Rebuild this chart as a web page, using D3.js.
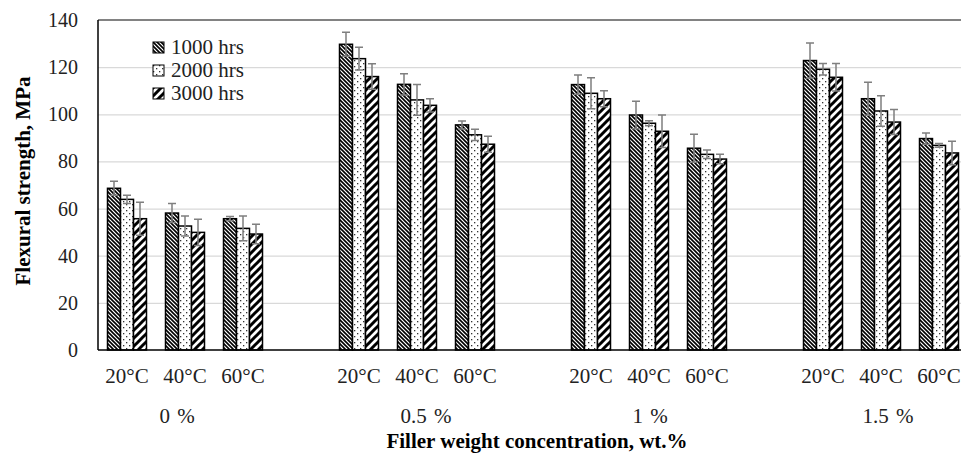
<!DOCTYPE html>
<html>
<head>
<meta charset="utf-8">
<script src="https://cdn.jsdelivr.net/npm/d3@7"></script>
<style>
  body { margin: 0; background: #fff; }
  svg { display: block; font-family: "Liberation Serif", "Times New Roman", serif; }
</style>
</head>
<body>
<div id="chart"></div>
<script>
// chart data
const fillers = ["0 %", "0.5 %", "1 %", "1.5 %"];
const temps = ["20°C", "40°C", "60°C"];
const hours = ["1000 hrs", "2000 hrs", "3000 hrs"];
const yTicks = [0, 20, 40, 60, 80, 100, 120, 140];

// one value per filler x temperature (filler-major order)
const strength1000 = [68.6, 58.1, 55.7, 129.7, 112.7, 95.5, 112.6, 99.7, 85.6, 122.8, 106.6, 89.7];
const strength2000 = [63.9, 52.6, 51.6, 123.6, 106.1, 91.3, 108.9, 96.2, 83.0, 119.1, 101.4, 86.8];
const strength3000 = [55.7, 49.9, 49.2, 116.0, 103.8, 87.3, 106.6, 92.8, 81.0, 115.7, 96.7, 83.6];
const err1000 = [3.0, 4.0, 0.9, 5.1, 4.5, 1.7, 4.1, 5.8, 5.9, 7.4, 7.0, 2.4];
const err2000 = [1.7, 4.2, 5.3, 4.8, 6.5, 2.4, 6.6, 1.1, 1.8, 2.4, 6.5, 0.8];
const err3000 = [7.0, 5.6, 4.1, 5.4, 2.8, 3.4, 3.4, 6.9, 2.0, 5.8, 5.3, 5.0];

const width = 961, height = 453;
const plot = {left: 98, right: 968, top: 20, bottom: 350};

const svg = d3.select("#chart").append("svg")
    .attr("width", width)
    .attr("height", height);

// hatch patterns like the excel fills
const defs = svg.append("defs");
let p1 = defs.append("pattern").attr("id", "pat1000")
    .attr("patternUnits", "userSpaceOnUse").attr("width", 4).attr("height", 4);
p1.append("rect").attr("width", 4).attr("height", 4).attr("fill", "#fff");
p1.append("path").attr("d", "M-1,3 l2,2 M0,0 l4,4 M3,-1 l2,2")
    .attr("stroke", "#000").attr("stroke-width", 1.6);

let p2 = defs.append("pattern").attr("id", "pat2000")
    .attr("patternUnits", "userSpaceOnUse").attr("width", 6).attr("height", 6);
p2.append("rect").attr("width", 6).attr("height", 6).attr("fill", "#fff");
p2.append("rect").attr("x", 0).attr("y", 0).attr("width", 1.3).attr("height", 1.3).attr("fill", "#333");
p2.append("rect").attr("x", 3).attr("y", 3).attr("width", 1.3).attr("height", 1.3).attr("fill", "#333");

let p3 = defs.append("pattern").attr("id", "pat3000")
    .attr("patternUnits", "userSpaceOnUse").attr("width", 8).attr("height", 8);
p3.append("rect").attr("width", 8).attr("height", 8).attr("fill", "#fff");
p3.append("path").attr("d", "M-2,2 l4,-4 M0,8 l8,-8 M6,10 l4,-4")
    .attr("stroke", "#000").attr("stroke-width", 3);

const fills = ["url(#pat1000)", "url(#pat2000)", "url(#pat3000)"];

// scales
const x0 = d3.scaleBand().domain(fillers)
    .range([plot.left, plot.right]).paddingInner(0.25).paddingOuter(0);
const x1 = d3.scaleBand().domain(temps).range([0, x0.bandwidth()]);
const x2 = d3.scaleBand().domain(hours)
    .range([x1.bandwidth() / 2 - 19.5, x1.bandwidth() / 2 + 19.5]);
const y = d3.scaleLinear().domain([0, 140]).range([plot.bottom, plot.top]);

// gridlines
svg.append("g")
    .attr("transform", `translate(${plot.left},0)`)
    .call(d3.axisLeft(y).tickValues(yTicks.slice(1, -1)).tickSize(-(plot.right - plot.left)).tickFormat(""))
    .call(g => g.select(".domain").remove())
    .selectAll("line").attr("stroke", "#d9d9d9").attr("stroke-width", 1.3);

// top border of plot area
svg.append("line")
    .attr("x1", plot.left).attr("x2", plot.right)
    .attr("y1", y(140)).attr("y2", y(140))
    .attr("stroke", "#595959").attr("stroke-width", 1.3);

// y tick labels
svg.append("g")
    .selectAll("text")
    .data(yTicks)
    .enter().append("text")
    .attr("x", plot.left - 20)
    .attr("y", d => y(d))
    .attr("dy", "0.35em")
    .attr("text-anchor", "end")
    .attr("font-size", 20)
    .attr("fill", "#222")
    .text(d => d);

// flatten the series into rows
let rows = [];
fillers.forEach((f, i) => {
    temps.forEach((t, j) => {
        let k = i * temps.length + j;
        rows.push({f: f, t: t, h: hours[0], v: strength1000[k], e: err1000[k], s: 0});
        rows.push({f: f, t: t, h: hours[1], v: strength2000[k], e: err2000[k], s: 1});
        rows.push({f: f, t: t, h: hours[2], v: strength3000[k], e: err3000[k], s: 2});
    });
});
const bx = d => x0(d.f) + x1(d.t) + x2(d.h);

// bars
svg.append("g")
    .selectAll("rect")
    .data(rows)
    .enter().append("rect")
    .attr("x", bx)
    .attr("y", d => y(d.v))
    .attr("width", x2.bandwidth())
    .attr("height", d => y(0) - y(d.v))
    .attr("fill", d => fills[d.s])
    .attr("stroke", "#000")
    .attr("stroke-width", 1.5);

// error bars
const eb = svg.append("g").attr("stroke", "#7f7f7f").attr("stroke-width", 1.5).attr("fill", "none");
eb.selectAll("path")
    .data(rows)
    .enter().append("path")
    .attr("d", d => {
        let cx = bx(d) + x2.bandwidth() / 2;
        let t = y(d.v + d.e), b = y(d.v - d.e);
        return `M${cx - 4},${t}H${cx + 4}M${cx},${t}V${b}M${cx - 4},${b}H${cx + 4}`;
    });

// axis lines
svg.append("line")
    .attr("x1", plot.left).attr("x2", plot.right)
    .attr("y1", y(0)).attr("y2", y(0))
    .attr("stroke", "#000").attr("stroke-width", 1.5);
svg.append("line")
    .attr("x1", plot.left).attr("x2", plot.left)
    .attr("y1", y(140)).attr("y2", y(0))
    .attr("stroke", "#000").attr("stroke-width", 1.5);

// category labels (group labels sit a little off-centre in the original)
const groupNudge = [-8, 9, 1, 7];
fillers.forEach((f, i) => {
    temps.forEach(t => {
        svg.append("text")
            .attr("x", x0(f) + x1(t) + x1.bandwidth() / 2)
            .attr("y", 383)
            .attr("text-anchor", "middle")
            .attr("font-size", 21)
            .attr("fill", "#222")
            .text(t);
    });
    svg.append("text")
        .attr("x", x0(f) + x0.bandwidth() / 2 + groupNudge[i])
        .attr("y", 423)
        .attr("text-anchor", "middle")
        .attr("font-size", 21)
        .attr("fill", "#222")
        .style("word-spacing", "2px")
        .text(f);
});

// axis titles
svg.append("text")
    .attr("x", 537)
    .attr("y", 448)
    .attr("text-anchor", "middle")
    .attr("font-size", 21)
    .attr("font-weight", "bold")
    .text("Filler weight concentration, wt.%");

svg.append("text")
    .attr("transform", "translate(30,181) rotate(-90)")
    .attr("text-anchor", "middle")
    .attr("font-size", 21)
    .attr("font-weight", "bold")
    .text("Flexural strength, MPa");

// legend
const legend = svg.append("g").attr("transform", "translate(153,42)");
hours.forEach((h, i) => {
    let g = legend.append("g").attr("transform", `translate(0,${i * 23})`);
    g.append("rect")
        .attr("width", 11).attr("height", 11)
        .attr("fill", fills[i])
        .attr("stroke", "#000").attr("stroke-width", 1);
    g.append("text")
        .attr("x", 18).attr("y", 12)
        .attr("font-size", 21)
        .attr("fill", "#222")
        .text(h);
});
</script>
</body>
</html>
